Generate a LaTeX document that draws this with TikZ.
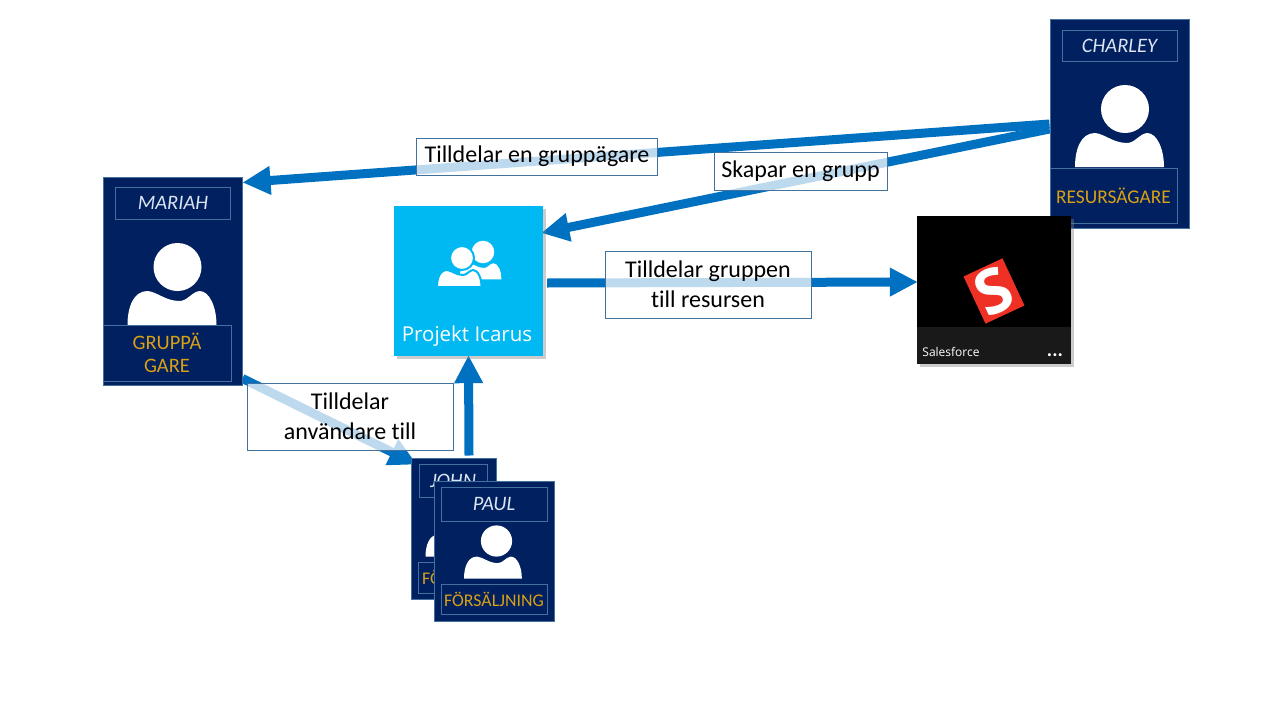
\documentclass[tikz,border=0pt]{standalone}
\usepackage{fontspec}
\setmainfont[Ligatures=NoCommon]{Carlito}
\newfontfamily\tilefont{Open Sans}
\usepackage{xcolor}
\usetikzlibrary{arrows.meta,backgrounds,shadows}
\definecolor{navy}{HTML}{002060}
\definecolor{edge}{HTML}{41719C}
\definecolor{gold}{HTML}{DAA015}
\definecolor{pale}{HTML}{DCE4F0}
\definecolor{flow}{HTML}{0070C0}
\definecolor{sky}{HTML}{00B9F2}
\definecolor{logored}{HTML}{EE3124}
\tikzset{
  person/.pic={
    \path[pic actions] (0,0) circle (24);
    \path[pic actions] (-50,58) .. controls (-50,40) and (-44,24) .. (-30,24)
      .. controls (-20,25) and (-12,34) .. (2,34)
      .. controls (10,34) and (14,25) .. (22,24)
      .. controls (32,24) and (39,40) .. (39,58) -- cycle;
  }
}
\begin{document}
\begin{tikzpicture}[
  x=1pt, y=-1pt,
  card/.style={draw=edge, fill=navy, line width=1pt, inner sep=0pt},
  namebox/.style={draw=edge, line width=1pt, inner sep=0pt, text=pale, font=\fontsize{20.5}{24}\selectfont\itshape},
  rolebox/.style={draw=edge, line width=1pt, inner sep=0pt, align=center, text=gold, font=\fontsize{19.4}{23}\selectfont},
  tile/.style={inner sep=0pt, drop shadow={shadow xshift=3pt, shadow yshift=-3pt, opacity=0.4}},
  tag/.style={draw=edge, fill=white, fill opacity=0.74, draw opacity=1, text opacity=1, line width=1pt, inner sep=0pt, align=center, font=\fontsize{24}{29.5}\selectfont},
  arrow/.style={-{Triangle[length=28pt,width=27pt]}, line width=9pt, flow},
  icon/.style={fill=white}
]
  \useasboundingbox (0,0) rectangle (1280,720);

  % Charley
  \node[card, minimum width=139, minimum height=209] (charley) at (1119.5, 124) {};
  \node[namebox, minimum width=115, minimum height=31] (charleyname) at (1119.5, 46) {CHARLEY};
  \pic[icon] at (1125, 109) {person};
  \node[rolebox, minimum width=127, minimum height=55] (charleyrole) at (1113.5, 196) {RESURSÄGARE};

  % Mariah
  \node[card, minimum width=139, minimum height=208] (mariah) at (172.5, 281) {};
  \node[namebox, minimum width=115, minimum height=32] (mariahname) at (173, 203) {MARIAH};
  \pic[icon] at (177.5, 267) {person};
  \node[rolebox, minimum width=128, minimum height=56, font=\fontsize{20.5}{23}\selectfont] (mariahrole) at (167, 353) {GRUPPÄ\\GARE};

  % Group and app
  \node[tile, fill=sky, minimum width=149, minimum height=150] (group) at (468.5, 281) {};
  \pic[icon] at (483, 252) [scale=0.47] {person};
  \pic[icon, draw=sky, line width=2pt] at (462, 258) [scale=0.5] {person};
  \node[text=white, font=\tilefont\fontsize{20.5}{24}\selectfont] (grouplabel) at (467, 336) {Projekt Icarus};

  \node[tile, fill=black, minimum width=154, minimum height=148] (app) at (994, 290) {};
  \node[fill=black!90, minimum width=154, minimum height=37, inner sep=0pt] (appbar) at (994, 345.5) {};
  \node[fill=logored, rotate=25, minimum width=43, minimum height=52, inner sep=0pt, text=white, font=\tilefont\fontsize{62}{62}\selectfont\bfseries] (logo) at (994, 291) {S};
  \node[text=white, inner sep=0pt, font=\tilefont\fontsize{12}{14}\selectfont] (appname) at (951, 351.5) {Salesforce};
  \node[text=white, inner sep=0pt, font=\bfseries\fontsize{20}{20}\selectfont] (appmore) at (1055, 355) {...};

  % John and Paul
  \node[card, minimum width=85, minimum height=141] (john) at (454, 528.5) {};
  \node[namebox, minimum width=68, minimum height=33] (johnname) at (453, 480.5) {JOHN};
  \pic[icon, scale=0.65] at (458, 519) {person};
  \node[rolebox, minimum width=108, minimum height=31, font=\fontsize{17.8}{20}\selectfont] (johnrole) at (472, 577.5) {FÖRSÄLJNING};

  \node[card, minimum width=120, minimum height=140] (paul) at (494.5, 551.5) {};
  \node[namebox, minimum width=106, minimum height=34] (paulname) at (494, 504) {PAUL};
  \pic[icon, scale=0.65] at (496.5, 541) {person};
  \node[rolebox, minimum width=106, minimum height=30, font=\fontsize{17.8}{20}\selectfont] (paulrole) at (494, 599) {FÖRSÄLJNING};

  % Arrows
  \begin{scope}[on background layer]
    \draw[arrow] (charley.west) -- ([yshift=-6pt]mariah.north east);
    \draw[arrow] ([yshift=-5pt]charley.west) -- ([xshift=-2pt,yshift=48pt]group.east);
    \draw[arrow] ([xshift=4pt,yshift=-2pt]group.east) -- ([xshift=1pt,yshift=8pt]app.west);
    \draw[arrow] ([yshift=7pt]mariah.south east) -- ([xshift=6pt,yshift=-7pt]john.north west);
    \draw[arrow] ([xshift=15pt,yshift=2pt]john.north) -- ([yshift=1pt]group.south);
  \end{scope}

  % Labels
  \node[tag, minimum width=241, minimum height=37] (ownertag) at (537, 156.5) {Tilldelar en gruppägare};
  \node[tag, minimum width=173, minimum height=38] (createtag) at (800.5, 171) {Skapar en grupp};
  \node[tag, minimum width=206, minimum height=67] (assigntag) at (708, 284.5) {Tilldelar gruppen\\till resursen};
  \node[tag, minimum width=206, minimum height=67] (userstag) at (350, 416.5) {Tilldelar\\användare till};
\end{tikzpicture}
\end{document}
